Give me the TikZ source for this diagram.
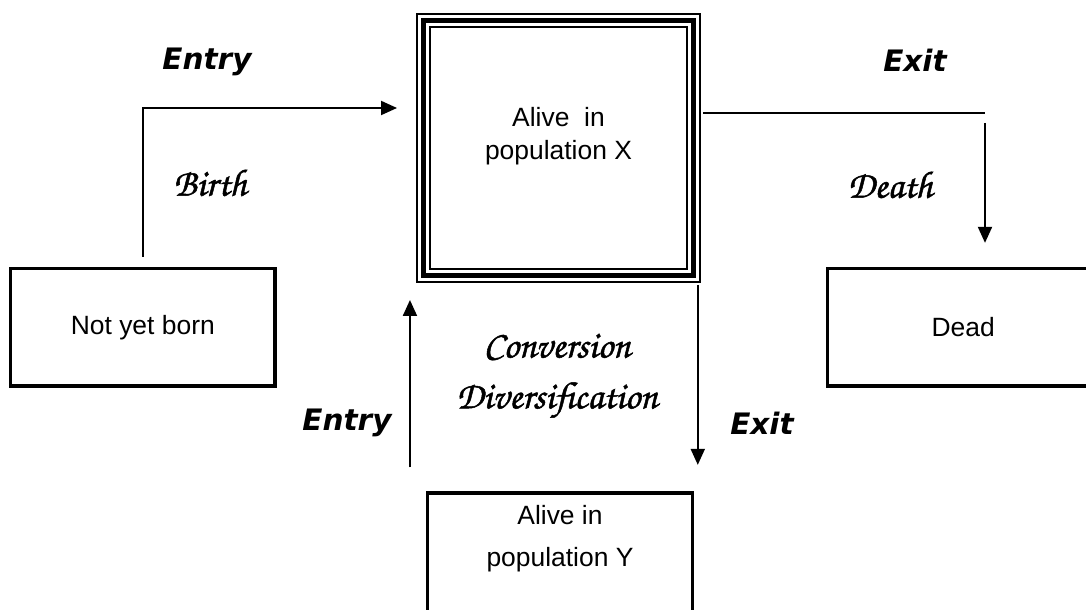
\documentclass[tikz,border=0pt]{standalone}
\usepackage{fontspec}
\setmainfont{Liberation Sans}
\newfontfamily\verdanafont{DejaVu Sans}
\newfontfamily\chancery{texgyrechorus-mediumitalic.otf}[FakeBold=1.3]
\usetikzlibrary{arrows.meta,positioning}

\tikzset{
  statebox/.style={draw, line width=2.2pt},
  statetext/.style={font=\fontsize{18.8}{23.5}\selectfont, align=center},
  flow/.style={line width=1.4pt, -{Triangle[length=0.4cm,width=0.35cm]}},
  move/.style={font=\verdanafont\fontsize{21}{24}\selectfont\bfseries\itshape},
  cause/.style={font=\chancery\fontsize{27.2}{31}\selectfont},
}

\begin{document}
\begin{tikzpicture}
\clip (0,0) rectangle (27.15,-15.25);

% population X, triple frame
\node[draw, line width=1.4pt, minimum width=7.075cm, minimum height=6.7cm] (X) at (13.9625,-3.7) {};
\draw[line width=3.2pt] ([shift={(0.19cm,-0.19cm)}]X.north west) rectangle ([shift={(-0.19cm,0.19cm)}]X.south east);
\draw[line width=1.4pt] ([shift={(0.355cm,-0.355cm)}]X.north west) rectangle ([shift={(-0.355cm,0.355cm)}]X.south east);
\node[statetext] (Xtext) at ([yshift=0.29cm]X.center) {Alive\ \ in\\population X};

\node[statebox, statetext, minimum width=6.61cm, minimum height=2.94cm] (N) at (3.57,-8.18) {Not yet born};
\node[statebox, statetext, minimum width=6.8cm, minimum height=2.94cm] (D) at (24.08,-8.18) {Dead};
\node[statebox, minimum width=6.625cm, minimum height=3.3cm] (Y) at (14.0,-13.975) {};
\node[statetext, font=\fontsize{18.8}{29.9}\selectfont] (Ytext) at ([yshift=0.5cm]Y.center) {Alive in\\population Y};

\coordinate (deathturn) at (24.625,-2.825);
\coordinate (entrystart) at ([xshift=-0.4cm,yshift=0.6cm]Y.north west);
\coordinate (exitstart) at ([xshift=-0.08cm,yshift=-0.05cm]X.south east);

% flows
\draw[flow] ([yshift=0.25cm]N.north) |- ([xshift=-0.475cm,yshift=1cm]X.west);
\draw[line width=1.4pt] ([xshift=0.06cm,yshift=0.875cm]X.east) -- (deathturn);
\draw[flow, shorten >=0.6cm] ([yshift=-0.25cm]deathturn) -- (deathturn |- D.north);
\draw[flow, shorten >=0.425cm] (entrystart) -- (entrystart |- X.south);
\draw[flow, shorten >=0.665cm] (exitstart) -- (exitstart |- Y.north);

% labels
\node[move] (entrytop) at (5.175,-1.55) {Entry};
\node[move] (exittop) at (22.875,-1.5) {Exit};
\node[cause] (birth) at (5.25,-4.575) {Birth};
\node[cause] (death) at (22.25,-4.625) {Death};
\node[cause] (conversion) at (13.925,-8.675) {Conversion};
\node[cause] (diversification) at (13.925,-10.0) {Diversification};
\node[move] (entrylow) at (8.675,-10.575) {Entry};
\node[move] (exitlow) at (19.05,-10.575) {Exit};

\end{tikzpicture}
\end{document}
